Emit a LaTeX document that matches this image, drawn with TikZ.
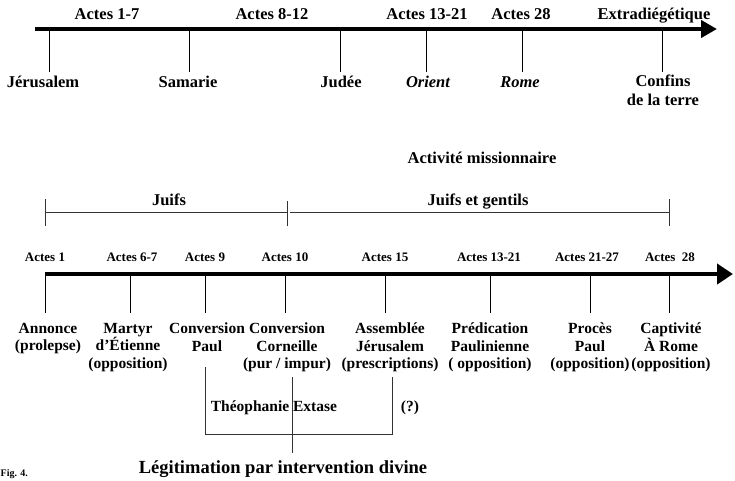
\documentclass[tikz,border=0pt]{standalone}
\usepackage{fontspec}
\setmainfont{Liberation Serif}
\usetikzlibrary{arrows.meta}
\begin{document}
\begin{tikzpicture}[x=1pt,y=-1pt,
  lbl/.style={font=\fontsize{15.5}{17.5}\selectfont\bfseries, align=center, inner sep=0pt, anchor=north},
  tlbl/.style={font=\fontsize{16.5}{18.5}\selectfont\bfseries, align=center, inner sep=0pt, anchor=north},
  tb/.style={font=\fontsize{16.5}{18.5}\selectfont\bfseries, inner sep=0pt, anchor=base},
  slbl/.style={font=\fontsize{13}{15}\selectfont\bfseries, inner sep=0pt, anchor=base},
  axis/.style={line width=4pt, -{Triangle[length=16pt,width=17pt]}},
  axisb/.style={line width=4pt, -{Triangle[length=16pt,width=20pt]}},
  tickl/.style={line width=0.8pt},
  brk/.style={line width=0.7pt, black!80}]
\useasboundingbox (0,0) rectangle (735,480);

% ---------- top timeline ----------
\coordinate (a0) at (35,29);
\coordinate (a1) at (717,29);
\draw[axis] (a0) -- (a1);

\node[tb] (ta1) at (107,19.4) {Actes 1-7};
\node[tb] (ta2) at (272,19.4) {Actes 8-12};
\node[tb] (ta3) at (427,19.4) {Actes 13-21};
\node[tb] (ta4) at (521,19.4) {Actes 28};
\node[tb] (ta5) at (654,19.4) {Extradiégétique};

\node[tb] (jer) at (43,87.4) {Jérusalem};
\node[tb] (sam) at (188,87.4) {Samarie};
\node[tb] (jud) at (341,87.4) {Judée};
\node[tb] (ori) at (428,87.4) {\itshape Orient};
\node[tb] (rom) at (520,87.4) {\itshape Rome};
\node[tlbl] (con) at (663,75) {Confins\\de la terre};

\foreach \x/\n in {49/t1,189/t2,340/t3,426/t4,522/t5,662/t6}{
  \coordinate (\n a) at (\x,29);
  \coordinate (\n b) at (\x,72);
  \draw[tickl] (\n a) -- (\n b);
}

\node[tb] (act) at (482,163) {Activité missionnaire};

% ---------- bracket Juifs / Juifs et gentils ----------
\coordinate (bl) at (45,212);
\coordinate (bm) at (287,212);
\coordinate (bm2) at (290,212);
\coordinate (br) at (669,212);
\draw[brk] (bl) -- (bm);
\draw[brk] (bm2) -- (br);
\draw[brk] ([yshift=-14]bl) -- ([yshift=13]bl);
\draw[brk] ([yshift=-14]bm) -- ([yshift=11]bm);
\draw[brk] ([yshift=-14]br) -- ([yshift=13]br);
\node[tb] (juifs) at (169,205) {Juifs};
\node[tb] (jg) at (478,205) {Juifs et gentils};

% ---------- bottom timeline ----------
\coordinate (b0) at (45,274);
\coordinate (b1) at (733,274);
\draw[axisb] (b0) -- (b1);

\node[slbl] (ba1) at (45,261.6) {Actes 1};
\node[slbl] (ba2) at (132,261.6) {Actes 6-7};
\node[slbl] (ba3) at (205,261.6) {Actes 9};
\node[slbl] (ba4) at (285,261.6) {Actes 10};
\node[slbl] (ba5) at (385,261.6) {Actes 15};
\node[slbl] (ba6) at (489,261.6) {Actes 13-21};
\node[slbl] (ba7) at (587,261.6) {Actes 21-27};
\node[slbl] (ba8) at (670,261.6) {Actes\ \ 28};

\foreach \x/\n in {45/u1,130/u2,205/u3,285/u4,385/u5,490/u6,590/u7,669/u8}{
  \coordinate (\n a) at (\x,274);
  \coordinate (\n b) at (\x,313);
  \draw[tickl] (\n a) -- (\n b);
}

\node[lbl] (ann) at (48,323) {Annonce\\(prolepse)};
\node[lbl] (mar) at (128,323) {Martyr\\d'Étienne\\(opposition)};
\node[lbl] (cpa) at (207,323) {Conversion\\Paul};
\node[lbl] (cco) at (287,323) {Conversion\\Corneille\\(pur / impur)};
\node[lbl] (ass) at (390,323) {Assemblée\\Jérusalem\\(prescriptions)};
\node[lbl] (pre) at (490,323) {Prédication\\Paulinienne\\( opposition)};
\node[lbl] (pro) at (590,323) {Procès\\Paul\\(opposition)};
\node[lbl] (cap) at (671,323) {Captivité\\À Rome\\(opposition)};

% ---------- lower bracket ----------
\coordinate (p0) at (205,367);
\coordinate (p1) at (205,434);
\coordinate (q1) at (392,434);
\coordinate (q0) at (392,377);
\coordinate (m0) at (292,377);
\coordinate (m1) at (292,453);
\draw[brk] (p0) -- (p1) -- (q1) -- (q0);
\draw[brk] (m0) -- (m1);

\node[lbl, anchor=base] (theo) at (250,411.3) {Théophanie};
\node[lbl, anchor=base] (ext) at (315,411.3) {Extase};
\node[lbl, anchor=base] (qm) at (410,411.3) {(?)};

\node[font=\fontsize{18.5}{20}\selectfont\bfseries, inner sep=0pt, anchor=base] (leg) at (283,473.5) {Légitimation par intervention divine};
\node[font=\fontsize{10}{11}\selectfont\bfseries, inner sep=0pt, anchor=base west] (fig) at (0.5,476.5) {Fig. 4.};
\end{tikzpicture}
\end{document}
